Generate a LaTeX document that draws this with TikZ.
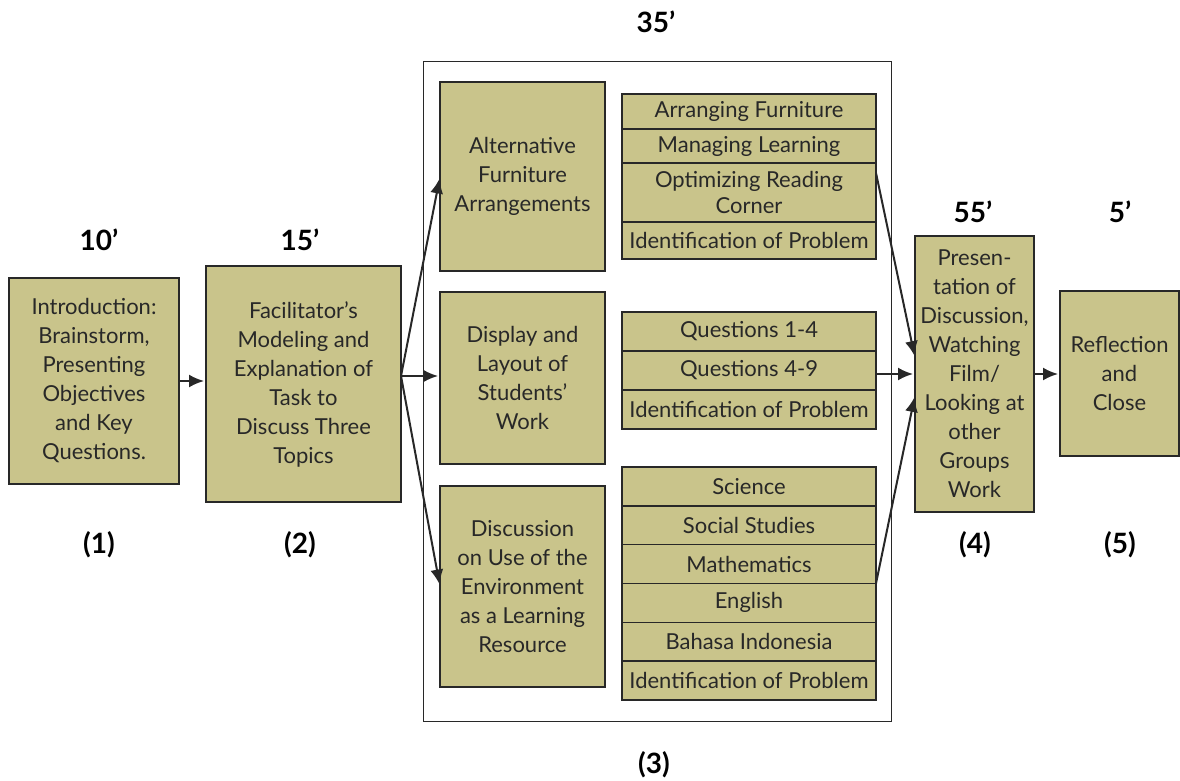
\documentclass[tikz,border=0pt]{standalone}
\usepackage{fontspec}
\setmainfont{Lato}
\usetikzlibrary{arrows.meta,positioning}
\definecolor{khaki}{RGB}{201,196,139}
\definecolor{rim}{RGB}{40,40,40}
\tikzset{
  stepbox/.style={draw=rim,fill=khaki,line width=1.4pt,align=center,text=rim,
    inner sep=2pt,outer sep=0pt,font=\fontsize{22}{29}\selectfont},
  row/.style={stepbox,minimum width=254pt},
  mins/.style={font=\fontsize{28}{32}\selectfont\bfseries},
  flow/.style={-{Latex[length=15pt,width=13pt]},line width=2pt,rim,shorten >=2pt}
}
\begin{document}
\begin{tikzpicture}
        [x=1pt,y=-1pt]
        \useasboundingbox (0,0) rectangle (1180,781);

        % the frame round the three topics
        \node[draw=rim,line width=0.9pt,minimum width=468pt,minimum height=660pt] (stage) at (657,391) {};

        \node[stepbox,minimum width=170pt,minimum height=206pt] (intro) at (94,381)
          {Introduction:\\Brainstorm,\\Presenting\\Objectives\\and Key\\Questions.};
        \node[stepbox,minimum width=195pt,minimum height=236pt] (facil) at (303.5,384)
          {Facilitator’s\\Modeling and\\Explanation of\\Task to\\Discuss Three\\Topics};

        \node[stepbox,minimum width=165pt,minimum height=189pt] (alt) at (522.5,176.5)
          {Alternative\\Furniture\\Arrangements};
        \node[stepbox,minimum width=165pt,minimum height=172pt] (disp) at (522.5,378)
          {Display and\\Layout of\\Students’\\Work};
        \node[stepbox,minimum width=165pt,minimum height=201pt] (env) at (522.5,586.5)
          {Discussion\\on Use of the\\Environment\\as a Learning\\Resource};

        % first topic
        \node[row,minimum height=35pt] (arr) at (749,111.5) {Arranging Furniture};
        \node[row,minimum height=34pt] (man) at (749,146) {Managing Learning};
        \node[row,minimum height=59pt,font=\fontsize{22}{26}\selectfont] (opt) at (749,192.5) {Optimizing Reading\\Corner};
        \node[row,minimum height=37pt] (idf) at (749,240.5) {Identification of Problem};

        % second topic
        \node[row,minimum height=39pt] (q14) at (749,331.5) {Questions 1-4};
        \node[row,minimum height=39pt] (q49) at (749,370.5) {Questions 4-9};
        \node[row,minimum height=39pt] (idd) at (749,409.5) {Identification of Problem};

        % third topic
        \foreach \t [count=\i] in {Science,Social Studies,Mathematics,English,Bahasa Indonesia,Identification of Problem}
        {\node[row,minimum height=38.8pt] (sub\i) at (749,{467+38.8*(\i-0.5)}) {\t};}

        \node[stepbox,minimum width=119pt,minimum height=276pt] (pres) at (974.5,374)
          {Presen-\\tation of\\Discussion,\\Watching\\Film/\\Looking at\\other\\Groups\\Work};
        \node[stepbox,minimum width=119pt,minimum height=165pt] (refl) at (1119.5,373.5)
          {Reflection\\and\\Close};

        \node[mins] (t1) at (99,240) {10’};
        \node[mins] (t2) at (300,240) {15’};
        \node[mins] (t3) at (656,22) {35’};
        \node[mins] (t4) at (973,212) {55’};
        \node[mins] (t5) at (1120,212) {5’};

        \node[mins] (n1) at (99,545) {(1)};
        \node[mins] (n2) at (300,545) {(2)};
        \node[mins] (n3) at (654,765) {(3)};
        \node[mins] (n4) at (975,545) {(4)};
        \node[mins] (n5) at (1120,545) {(5)};

        \coordinate (fork) at ([yshift=8pt]facil.east);
        \draw[flow] (intro.east) -- (intro.east -| facil.west);
        \draw[flow] (fork) -- (alt.west);
        \draw[flow] (fork) -- (fork -| disp.west);
        \draw[flow] (fork) -- (env.west);

        \draw[flow] ([yshift=-10pt]opt.north east) -- ([yshift=16pt]pres.west);
        \draw[flow] (q49.east |- pres.west) -- (pres.west);
        \draw[flow] (sub3.south east) -- ([yshift=-21pt]pres.west);
        \draw[flow] (pres.east) -- (pres.east -| refl.west);
      \end{tikzpicture}
\end{document}
